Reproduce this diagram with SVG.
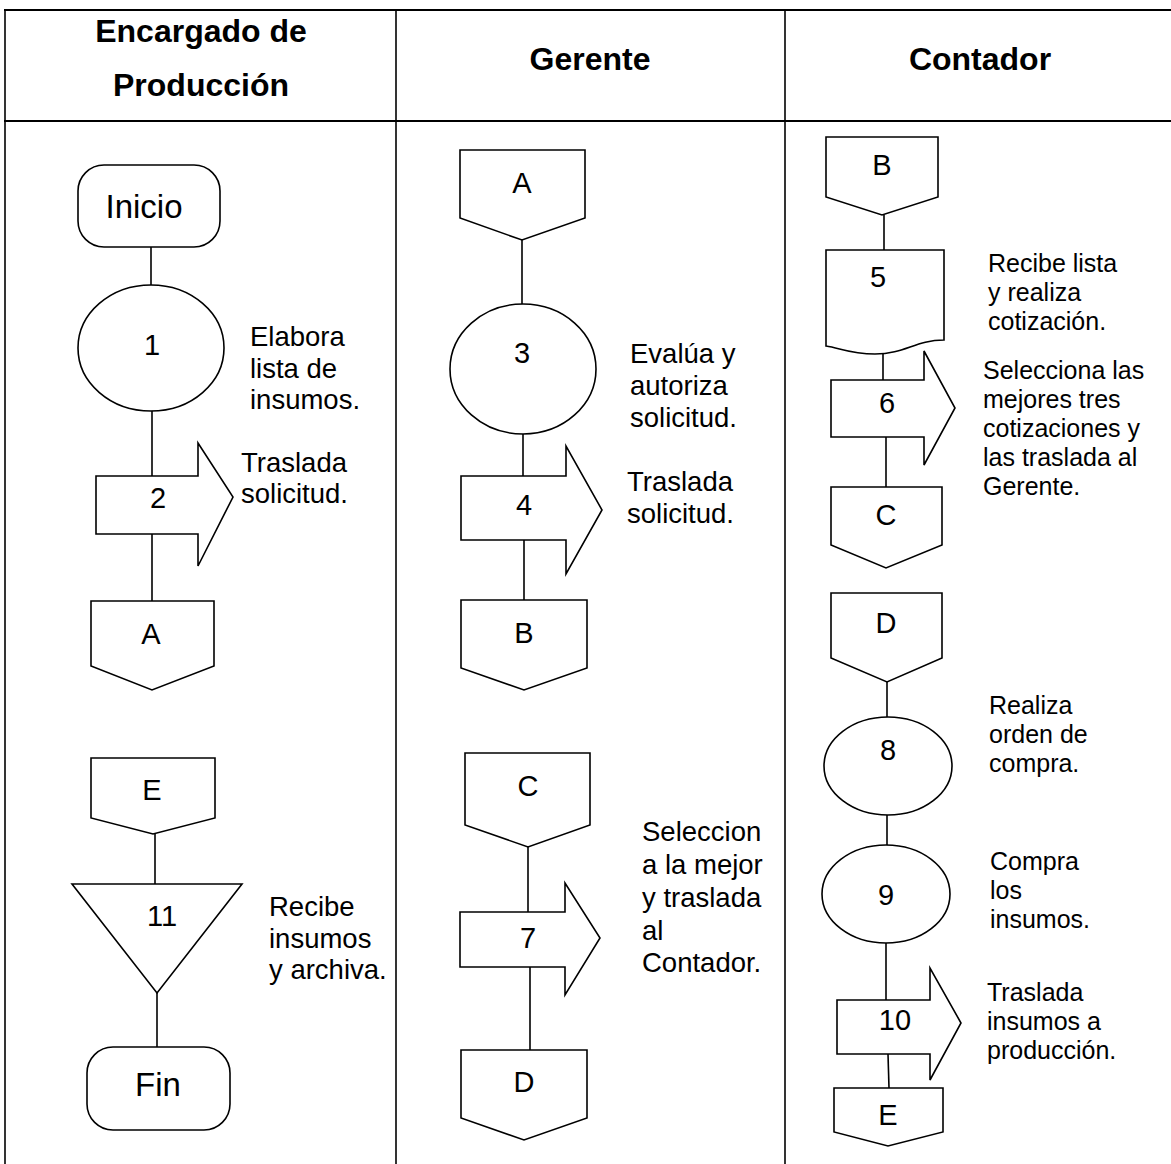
<svg xmlns="http://www.w3.org/2000/svg" width="1171" height="1164" viewBox="0 0 1171 1164">
<style>
.s{fill:#fff;stroke:#000;stroke-width:1.6}
.c{stroke:#000;stroke-width:1.6;fill:none}
.t{stroke:#000;stroke-width:2;fill:none}
.h{font-family:"Liberation Sans",Arial,sans-serif;font-weight:bold;font-size:32px;text-anchor:middle}
.n{font-family:"Liberation Sans",Arial,sans-serif;font-size:29px;text-anchor:middle;dominant-baseline:central}
.l{font-family:"Liberation Sans",Arial,sans-serif;font-size:27.5px}
.m{font-family:"Liberation Sans",Arial,sans-serif;font-size:25px}
</style>
<rect width="1171" height="1164" fill="#fff"/>
<g id="table">
<line class="t" x1="4" y1="10" x2="1171" y2="10"/>
<line class="t" x1="4" y1="121" x2="1171" y2="121"/>
<line class="c" x1="5" y1="10" x2="5" y2="1164"/>
<line class="c" x1="396" y1="10" x2="396" y2="1164"/>
<line class="c" x1="785" y1="10" x2="785" y2="1164"/>
<text class="h" x="201" y="42">Encargado de</text>
<text class="h" x="201" y="96">Producción</text>
<text class="h" x="590" y="70">Gerente</text>
<text class="h" x="980" y="70">Contador</text>
</g>
<g id="connectors">
<line class="c" x1="151" y1="246" x2="151" y2="287"/>
<line class="c" x1="152" y1="410" x2="152" y2="476"/>
<line class="c" x1="152" y1="534" x2="152" y2="601"/>
<line class="c" x1="155" y1="834" x2="155" y2="884"/>
<line class="c" x1="157" y1="993" x2="157" y2="1047"/>
<line class="c" x1="522" y1="240" x2="522" y2="304"/>
<line class="c" x1="523" y1="434" x2="523" y2="476"/>
<line class="c" x1="524" y1="540" x2="524" y2="600"/>
<line class="c" x1="528" y1="847" x2="528" y2="912"/>
<line class="c" x1="530" y1="967" x2="530" y2="1050"/>
<line class="c" x1="884" y1="215" x2="884" y2="250"/>
<line class="c" x1="883" y1="350" x2="883" y2="380"/>
<line class="c" x1="886" y1="437" x2="886" y2="487"/>
<line class="c" x1="887" y1="682" x2="887" y2="717"/>
<line class="c" x1="887" y1="815" x2="887" y2="846"/>
<line class="c" x1="886" y1="943" x2="886" y2="1000"/>
<line class="c" x1="888" y1="1054" x2="889" y2="1088"/>
</g>
<g id="inicio"><rect class="s" x="78" y="165" width="142" height="82" rx="26"/><text class="n" x="144" y="206" style="font-size:33px">Inicio</text></g>
<g id="op1"><ellipse class="s" cx="151" cy="348" rx="73" ry="63"/><text class="n" x="152" y="345">1</text>
<text class="l"><tspan x="250" y="346">Elabora</tspan><tspan x="250" y="378">lista de</tspan><tspan x="250" y="409">insumos.</tspan></text></g>
<g id="tr2"><path class="s" d="M96,476 H198 V443 L233,497 L198,566 V534 H96 Z"/><text class="n" x="158" y="498">2</text>
<text class="l"><tspan x="241" y="472">Traslada</tspan><tspan x="241" y="503">solicitud.</tspan></text></g>
<g id="offA1"><path class="s" d="M91,601 H214 V666 L152,690 L91,666 Z"/><text class="n" x="151" y="634">A</text></g>
<g id="offE1"><path class="s" d="M91,758 H215 V818 L153,834 L91,818 Z"/><text class="n" x="152" y="790">E</text></g>
<g id="ins11"><path class="s" d="M72,884 H242 L157,993 Z"/><text class="n" x="162" y="916">11</text>
<text class="l"><tspan x="269" y="916">Recibe</tspan><tspan x="269" y="948">insumos</tspan><tspan x="269" y="979">y archiva.</tspan></text></g>
<g id="fin"><rect class="s" x="87" y="1047" width="143" height="83" rx="26"/><text class="n" x="158" y="1084" style="font-size:33px">Fin</text></g>
<g id="offA2"><path class="s" d="M460,150 H585 V218 L522,240 L460,218 Z"/><text class="n" x="522" y="183">A</text></g>
<g id="op3"><ellipse class="s" cx="523" cy="369" rx="73" ry="65"/><text class="n" x="522" y="353">3</text>
<text class="l"><tspan x="630" y="363">Evalúa y</tspan><tspan x="630" y="395">autoriza</tspan><tspan x="630" y="427">solicitud.</tspan></text></g>
<g id="tr4"><path class="s" d="M461,476 H566 V446 L602,510 L566,574 V540 H461 Z"/><text class="n" x="524" y="505">4</text>
<text class="l"><tspan x="627" y="491">Traslada</tspan><tspan x="627" y="523">solicitud.</tspan></text></g>
<g id="offB2"><path class="s" d="M461,600 H587 V668 L524,690 L461,668 Z"/><text class="n" x="524" y="633">B</text></g>
<g id="offC2"><path class="s" d="M465,753 H590 V825 L528,847 L465,825 Z"/><text class="n" x="528" y="786">C</text></g>
<g id="tr7"><path class="s" d="M460,912 H565 V883 L600,938 L565,995 V967 H460 Z"/><text class="n" x="528" y="938">7</text>
<text class="l"><tspan x="642" y="841">Seleccion</tspan><tspan x="642" y="874">a la mejor</tspan><tspan x="642" y="907">y traslada</tspan><tspan x="642" y="940">al</tspan><tspan x="642" y="972">Contador.</tspan></text></g>
<g id="offD2"><path class="s" d="M461,1050 H587 V1118 L524,1140 L461,1118 Z"/><text class="n" x="524" y="1082">D</text></g>
<g id="offB3"><path class="s" d="M826,137 H938 V197 L882,215 L826,197 Z"/><text class="n" x="882" y="165">B</text></g>
<g id="doc5"><path class="s" d="M826,250 H944 V340 C915,340 905,354 875,354 C850,354 840,348 826,346 Z"/><text class="n" x="878" y="277">5</text>
<text class="m"><tspan x="988" y="272">Recibe lista</tspan><tspan x="988" y="301">y realiza</tspan><tspan x="988" y="330">cotización.</tspan></text></g>
<g id="tr6"><path class="s" d="M831,380 H924 V351 L955,408 L924,465 V437 H831 Z"/><text class="n" x="887" y="403">6</text>
<text class="m"><tspan x="983" y="379">Selecciona las</tspan><tspan x="983" y="408">mejores tres</tspan><tspan x="983" y="437">cotizaciones y</tspan><tspan x="983" y="466">las traslada al</tspan><tspan x="983" y="495">Gerente.</tspan></text></g>
<g id="offC3"><path class="s" d="M831,487 H942 V545 L886,568 L831,545 Z"/><text class="n" x="886" y="515">C</text></g>
<g id="offD3"><path class="s" d="M831,593 H942 V658 L887,682 L831,658 Z"/><text class="n" x="886" y="623">D</text></g>
<g id="op8"><ellipse class="s" cx="888" cy="766" rx="64" ry="49"/><text class="n" x="888" y="750">8</text>
<text class="m"><tspan x="989" y="714">Realiza</tspan><tspan x="989" y="743">orden de</tspan><tspan x="989" y="772">compra.</tspan></text></g>
<g id="op9"><ellipse class="s" cx="886" cy="894" rx="64" ry="49"/><text class="n" x="886" y="895">9</text>
<text class="m"><tspan x="990" y="870">Compra</tspan><tspan x="990" y="899">los</tspan><tspan x="990" y="928">insumos.</tspan></text></g>
<g id="tr10"><path class="s" d="M837,1000 H930 V968 L961,1023 L930,1080 V1054 H837 Z"/><text class="n" x="895" y="1020">10</text>
<text class="m"><tspan x="987" y="1001">Traslada</tspan><tspan x="987" y="1030">insumos a</tspan><tspan x="987" y="1059">producción.</tspan></text></g>
<g id="offE3"><path class="s" d="M834,1088 H943 V1132 L888,1146 L834,1132 Z"/><text class="n" x="888" y="1115">E</text></g>
</svg>
